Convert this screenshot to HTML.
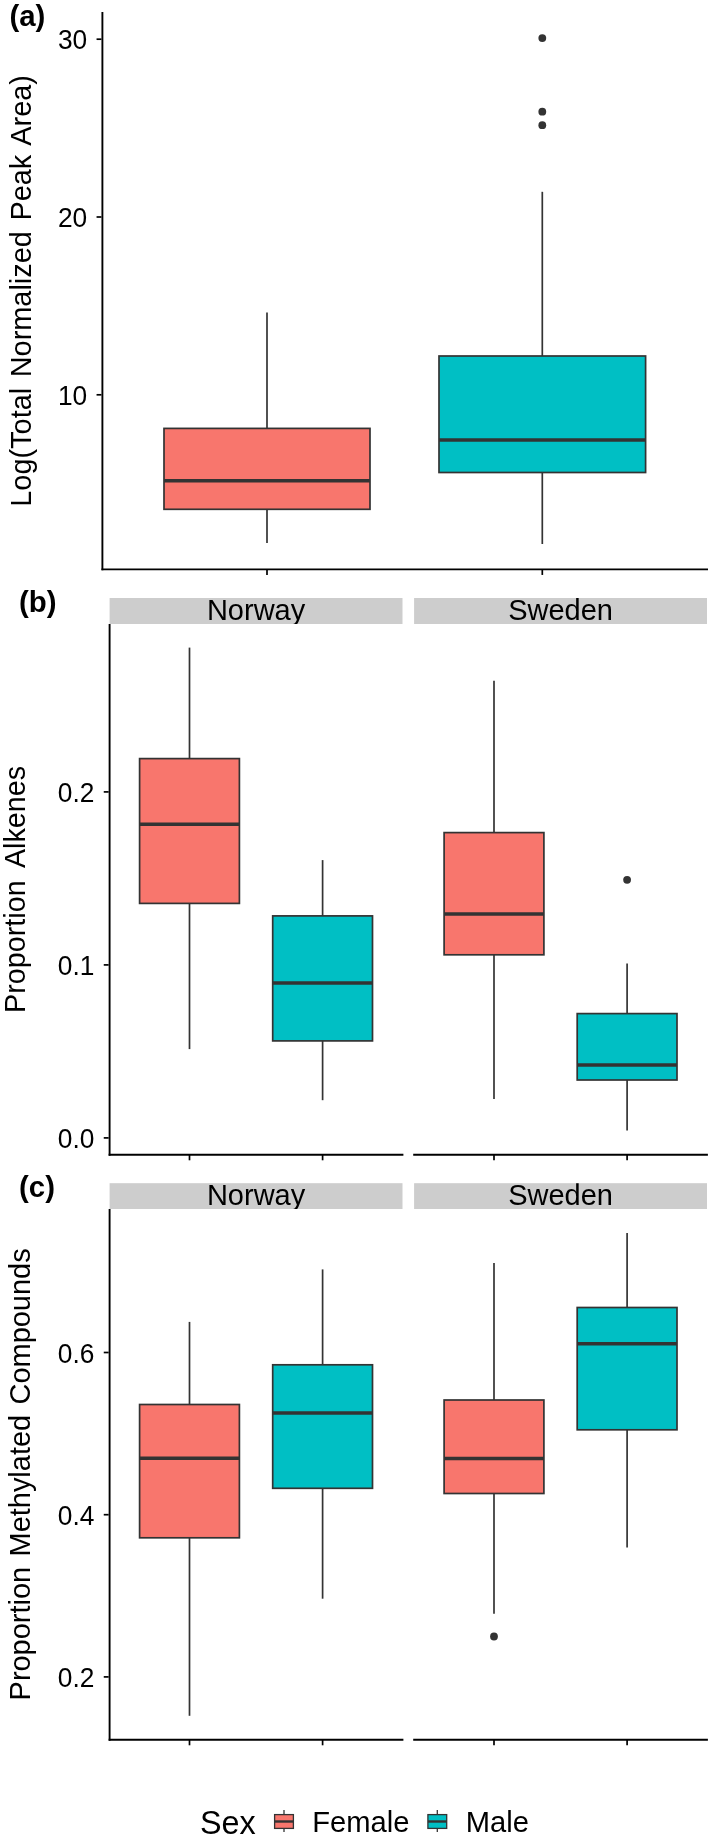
<!DOCTYPE html>
<html lang="en">
<head>
<meta charset="utf-8">
<title>Figure</title>
<style>
html,body{margin:0;padding:0;background:#fff;}
svg{display:block;will-change:transform;font-family:"Liberation Sans", Arial, Helvetica, sans-serif;fill:#000;}
</style>
</head>
<body>
<svg width="709" height="1842" viewBox="0 0 709 1842">
<rect x="0" y="0" width="709" height="1842" fill="#ffffff"/>
<text transform="translate(9.4,26.0) scale(1.0,1)" font-size="29.4" text-anchor="start" font-weight="bold">(a)</text>
<line x1="102.4" y1="12" x2="102.4" y2="570.3000000000001" stroke="#000" stroke-width="1.9"/>
<line x1="101.45" y1="569.35" x2="708" y2="569.35" stroke="#000" stroke-width="1.9"/>
<line x1="96.55" y1="39.2" x2="101.45" y2="39.2" stroke="#000" stroke-width="1.7"/>
<text transform="translate(87.25,49.300000000000004) scale(0.975,1)" font-size="27" text-anchor="end">30</text>
<line x1="96.55" y1="217.0" x2="101.45" y2="217.0" stroke="#000" stroke-width="1.7"/>
<text transform="translate(87.25,227.1) scale(0.975,1)" font-size="27" text-anchor="end">20</text>
<line x1="96.55" y1="394.8" x2="101.45" y2="394.8" stroke="#000" stroke-width="1.7"/>
<text transform="translate(87.25,404.90000000000003) scale(0.975,1)" font-size="27" text-anchor="end">10</text>
<line x1="267" y1="569.35" x2="267" y2="574.95" stroke="#000" stroke-width="1.7"/>
<line x1="542.3" y1="569.35" x2="542.3" y2="574.95" stroke="#000" stroke-width="1.7"/>
<text transform="translate(30.5,290.9) rotate(-90) scale(0.964,1)" font-size="30" text-anchor="middle" style="word-spacing:2.6px">Log(Total Normalized Peak Area)</text>
<line x1="267" y1="312.5" x2="267" y2="428.4" stroke="#333333" stroke-width="1.7"/>
<line x1="267" y1="509.3" x2="267" y2="543" stroke="#333333" stroke-width="1.7"/>
<rect x="164" y="428.4" width="206" height="80.90000000000003" fill="#F8766D" stroke="#333333" stroke-width="1.7"/>
<line x1="164" y1="480.7" x2="370" y2="480.7" stroke="#333333" stroke-width="3.5"/>
<line x1="542.3" y1="191.8" x2="542.3" y2="356" stroke="#333333" stroke-width="1.7"/>
<line x1="542.3" y1="472.5" x2="542.3" y2="544" stroke="#333333" stroke-width="1.7"/>
<rect x="438.99999999999994" y="356" width="206.59999999999997" height="116.5" fill="#00BFC4" stroke="#333333" stroke-width="1.7"/>
<line x1="438.99999999999994" y1="440" x2="645.5999999999999" y2="440" stroke="#333333" stroke-width="3.5"/>
<circle cx="542.3" cy="38.1" r="3.9" fill="#333333"/>
<circle cx="542.3" cy="111.7" r="3.9" fill="#333333"/>
<circle cx="542.3" cy="125.2" r="3.9" fill="#333333"/>
<text transform="translate(19.0,611.8) scale(1.0,1)" font-size="29.4" text-anchor="start" font-weight="bold">(b)</text>
<clipPath id="s1"><rect x="109.6" y="598" width="292.9" height="26.0"/></clipPath>
<rect x="109.6" y="598" width="292.9" height="26.0" fill="#cdcdcd"/>
<g clip-path="url(#s1)">
<text transform="translate(256.05,620.3) scale(0.98,1)" font-size="29.6" text-anchor="middle">Norway</text>
</g>
<clipPath id="s2"><rect x="414.1" y="598" width="292.9" height="26.0"/></clipPath>
<rect x="414.1" y="598" width="292.9" height="26.0" fill="#cdcdcd"/>
<g clip-path="url(#s2)">
<text transform="translate(560.55,620.3) scale(0.98,1)" font-size="29.6" text-anchor="middle">Sweden</text>
</g>
<line x1="109.6" y1="624.0" x2="109.6" y2="1155.65" stroke="#000" stroke-width="1.9"/>
<line x1="108.64999999999999" y1="1154.7" x2="403.4" y2="1154.7" stroke="#000" stroke-width="1.9"/>
<line x1="413.2" y1="1154.7" x2="707.9" y2="1154.7" stroke="#000" stroke-width="1.9"/>
<line x1="103.74999999999999" y1="791.9" x2="108.64999999999999" y2="791.9" stroke="#000" stroke-width="1.7"/>
<text transform="translate(94.44999999999999,802.0) scale(0.975,1)" font-size="27" text-anchor="end">0.2</text>
<line x1="103.74999999999999" y1="964.9" x2="108.64999999999999" y2="964.9" stroke="#000" stroke-width="1.7"/>
<text transform="translate(94.44999999999999,975.0) scale(0.975,1)" font-size="27" text-anchor="end">0.1</text>
<line x1="103.74999999999999" y1="1137.9" x2="108.64999999999999" y2="1137.9" stroke="#000" stroke-width="1.7"/>
<text transform="translate(94.44999999999999,1148.0) scale(0.975,1)" font-size="27" text-anchor="end">0.0</text>
<line x1="189.5" y1="1154.7" x2="189.5" y2="1160.3" stroke="#000" stroke-width="1.7"/>
<line x1="322.6" y1="1154.7" x2="322.6" y2="1160.3" stroke="#000" stroke-width="1.7"/>
<line x1="494" y1="1154.7" x2="494" y2="1160.3" stroke="#000" stroke-width="1.7"/>
<line x1="627.1" y1="1154.7" x2="627.1" y2="1160.3" stroke="#000" stroke-width="1.7"/>
<text transform="translate(24.8,889.4) rotate(-90) scale(0.958,1)" font-size="30" text-anchor="middle" style="word-spacing:6.2px">Proportion Alkenes</text>
<line x1="189.5" y1="647.6" x2="189.5" y2="758.6" stroke="#333333" stroke-width="1.7"/>
<line x1="189.5" y1="903.4" x2="189.5" y2="1049.1" stroke="#333333" stroke-width="1.7"/>
<rect x="139.6" y="758.6" width="99.80000000000001" height="144.79999999999995" fill="#F8766D" stroke="#333333" stroke-width="1.7"/>
<line x1="139.6" y1="824.3" x2="239.4" y2="824.3" stroke="#333333" stroke-width="3.5"/>
<line x1="322.6" y1="860.1" x2="322.6" y2="915.9" stroke="#333333" stroke-width="1.7"/>
<line x1="322.6" y1="1040.9" x2="322.6" y2="1100.2" stroke="#333333" stroke-width="1.7"/>
<rect x="272.70000000000005" y="915.9" width="99.79999999999995" height="125.00000000000011" fill="#00BFC4" stroke="#333333" stroke-width="1.7"/>
<line x1="272.70000000000005" y1="982.9" x2="372.5" y2="982.9" stroke="#333333" stroke-width="3.5"/>
<line x1="494" y1="680.8" x2="494" y2="832.6" stroke="#333333" stroke-width="1.7"/>
<line x1="494" y1="954.8" x2="494" y2="1098.9" stroke="#333333" stroke-width="1.7"/>
<rect x="444.1" y="832.6" width="99.79999999999995" height="122.19999999999993" fill="#F8766D" stroke="#333333" stroke-width="1.7"/>
<line x1="444.1" y1="914" x2="543.9" y2="914" stroke="#333333" stroke-width="3.5"/>
<line x1="627.1" y1="963.4" x2="627.1" y2="1013.6" stroke="#333333" stroke-width="1.7"/>
<line x1="627.1" y1="1080" x2="627.1" y2="1130.6" stroke="#333333" stroke-width="1.7"/>
<rect x="577.2" y="1013.6" width="99.79999999999995" height="66.39999999999998" fill="#00BFC4" stroke="#333333" stroke-width="1.7"/>
<line x1="577.2" y1="1065.1" x2="677.0" y2="1065.1" stroke="#333333" stroke-width="3.5"/>
<circle cx="627.1" cy="879.8" r="3.9" fill="#333333"/>
<text transform="translate(19.0,1196.9) scale(1.0,1)" font-size="29.4" text-anchor="start" font-weight="bold">(c)</text>
<clipPath id="s3"><rect x="109.6" y="1183.2" width="292.9" height="25.799999999999955"/></clipPath>
<rect x="109.6" y="1183.2" width="292.9" height="25.799999999999955" fill="#cdcdcd"/>
<g clip-path="url(#s3)">
<text transform="translate(256.05,1205.3) scale(0.98,1)" font-size="29.6" text-anchor="middle">Norway</text>
</g>
<clipPath id="s4"><rect x="414.1" y="1183.2" width="292.9" height="25.799999999999955"/></clipPath>
<rect x="414.1" y="1183.2" width="292.9" height="25.799999999999955" fill="#cdcdcd"/>
<g clip-path="url(#s4)">
<text transform="translate(560.55,1205.3) scale(0.98,1)" font-size="29.6" text-anchor="middle">Sweden</text>
</g>
<line x1="109.6" y1="1209.0" x2="109.6" y2="1740.65" stroke="#000" stroke-width="1.9"/>
<line x1="108.64999999999999" y1="1739.7" x2="403.4" y2="1739.7" stroke="#000" stroke-width="1.9"/>
<line x1="413.2" y1="1739.7" x2="707.9" y2="1739.7" stroke="#000" stroke-width="1.9"/>
<line x1="103.74999999999999" y1="1352.5" x2="108.64999999999999" y2="1352.5" stroke="#000" stroke-width="1.7"/>
<text transform="translate(94.44999999999999,1362.6) scale(0.975,1)" font-size="27" text-anchor="end">0.6</text>
<line x1="103.74999999999999" y1="1514.7" x2="108.64999999999999" y2="1514.7" stroke="#000" stroke-width="1.7"/>
<text transform="translate(94.44999999999999,1524.8) scale(0.975,1)" font-size="27" text-anchor="end">0.4</text>
<line x1="103.74999999999999" y1="1676.9" x2="108.64999999999999" y2="1676.9" stroke="#000" stroke-width="1.7"/>
<text transform="translate(94.44999999999999,1687.0) scale(0.975,1)" font-size="27" text-anchor="end">0.2</text>
<line x1="189.5" y1="1739.7" x2="189.5" y2="1745.3" stroke="#000" stroke-width="1.7"/>
<line x1="322.6" y1="1739.7" x2="322.6" y2="1745.3" stroke="#000" stroke-width="1.7"/>
<line x1="494" y1="1739.7" x2="494" y2="1745.3" stroke="#000" stroke-width="1.7"/>
<line x1="627.1" y1="1739.7" x2="627.1" y2="1745.3" stroke="#000" stroke-width="1.7"/>
<text transform="translate(30.1,1474.4) rotate(-90) scale(0.965,1)" font-size="30" text-anchor="middle" style="word-spacing:2.5px">Proportion Methylated Compounds</text>
<line x1="189.5" y1="1321.9" x2="189.5" y2="1404.5" stroke="#333333" stroke-width="1.7"/>
<line x1="189.5" y1="1537.8" x2="189.5" y2="1715.8" stroke="#333333" stroke-width="1.7"/>
<rect x="139.6" y="1404.5" width="99.80000000000001" height="133.29999999999995" fill="#F8766D" stroke="#333333" stroke-width="1.7"/>
<line x1="139.6" y1="1458.2" x2="239.4" y2="1458.2" stroke="#333333" stroke-width="3.5"/>
<line x1="322.6" y1="1269.4" x2="322.6" y2="1364.8" stroke="#333333" stroke-width="1.7"/>
<line x1="322.6" y1="1488.3" x2="322.6" y2="1598.7" stroke="#333333" stroke-width="1.7"/>
<rect x="272.70000000000005" y="1364.8" width="99.79999999999995" height="123.5" fill="#00BFC4" stroke="#333333" stroke-width="1.7"/>
<line x1="272.70000000000005" y1="1413.0" x2="372.5" y2="1413.0" stroke="#333333" stroke-width="3.5"/>
<line x1="494" y1="1263" x2="494" y2="1400" stroke="#333333" stroke-width="1.7"/>
<line x1="494" y1="1493.5" x2="494" y2="1613.8" stroke="#333333" stroke-width="1.7"/>
<rect x="444.1" y="1400" width="99.79999999999995" height="93.5" fill="#F8766D" stroke="#333333" stroke-width="1.7"/>
<line x1="444.1" y1="1458.5" x2="543.9" y2="1458.5" stroke="#333333" stroke-width="3.5"/>
<line x1="627.1" y1="1233" x2="627.1" y2="1307.5" stroke="#333333" stroke-width="1.7"/>
<line x1="627.1" y1="1429.8" x2="627.1" y2="1547.6" stroke="#333333" stroke-width="1.7"/>
<rect x="577.2" y="1307.5" width="99.79999999999995" height="122.29999999999995" fill="#00BFC4" stroke="#333333" stroke-width="1.7"/>
<line x1="577.2" y1="1343.8" x2="677.0" y2="1343.8" stroke="#333333" stroke-width="3.5"/>
<circle cx="494" cy="1636.5" r="3.9" fill="#333333"/>
<text transform="translate(199.9,1833.7) scale(0.98,1)" font-size="33" text-anchor="start">Sex</text>
<line x1="284" y1="1810" x2="284" y2="1832" stroke="#333333" stroke-width="1.3"/>
<rect x="274.6" y="1814.6" width="18.8" height="13.8" fill="#F8766D" stroke="#333333" stroke-width="1.3"/>
<line x1="274.6" y1="1821.5" x2="293.4" y2="1821.5" stroke="#333333" stroke-width="2.4"/>
<line x1="437.3" y1="1810" x2="437.3" y2="1832" stroke="#333333" stroke-width="1.3"/>
<rect x="427.90000000000003" y="1814.6" width="18.8" height="13.8" fill="#00BFC4" stroke="#333333" stroke-width="1.3"/>
<line x1="427.90000000000003" y1="1821.5" x2="446.7" y2="1821.5" stroke="#333333" stroke-width="2.4"/>
<text transform="translate(312.2,1831.6) scale(0.972,1)" font-size="30" text-anchor="start">Female</text>
<text transform="translate(465.7,1831.8) scale(0.972,1)" font-size="30" text-anchor="start">Male</text>
</svg>
</body>
</html>
